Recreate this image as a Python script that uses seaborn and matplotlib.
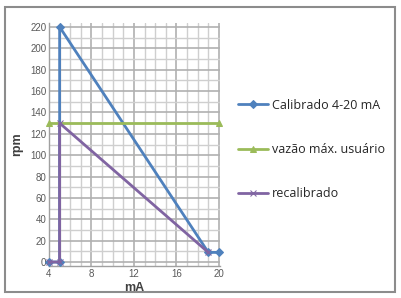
import numpy as np
import pandas as pd
import matplotlib
matplotlib.use("Agg")
import matplotlib.pyplot as plt
import matplotlib.ticker as ticker
from matplotlib.patches import Rectangle
import seaborn as sns

# data
calib_ma = [4, 5, 5, 19, 20]
calib_rpm = [0, 0, 220, 9, 9]
vazao_ma = [4, 20]
vazao_rpm = [130, 130]
recal_ma = [4, 5, 5, 19]
recal_rpm = [0, 0, 130, 9]

series = [
    ("Calibrado 4-20 mA", calib_ma, calib_rpm, "#4f81bd", "D", 4),
    ("vazão máx. usuário", vazao_ma, vazao_rpm, "#9bbb59", "^", 5),
    ("recalibrado", recal_ma, recal_rpm, "#8064a2", "x", 5),
]

sns.set_style("white")
plt.rcParams['font.family'] = ['Liberation Sans', 'DejaVu Sans']

fig = plt.figure(figsize=(4.01, 2.98), dpi=100)
ax = fig.add_axes([49 / 401, 31.7 / 298, (220 - 49) / 401, (266.3 - 22.7) / 298])

for name, x, y, color, marker, ms in series:
    df = pd.DataFrame({"mA": x, "rpm": y})
    sns.lineplot(data=df, x="mA", y="rpm", ax=ax, color=color, marker=marker,
                 markersize=ms, markeredgecolor=color, linewidth=2,
                 sort=False, label=name, estimator=None, clip_on=False, zorder=3)

ax.set_xlim(4, 20.1)
ax.set_ylim(-4, 224)
ax.xaxis.set_major_locator(ticker.MultipleLocator(4))
ax.xaxis.set_minor_locator(ticker.MultipleLocator(1))
ax.yaxis.set_major_locator(ticker.MultipleLocator(20))
ax.yaxis.set_minor_locator(ticker.MultipleLocator(10))
ax.grid(which="major", color="#b0b0b0", linewidth=1.2)
ax.grid(which="minor", color="#cfcfcf", linewidth=1.0)
ax.tick_params(which="both", length=0, labelsize=7, colors="#595959", pad=2)

for side in ["top", "right"]:
    ax.spines[side].set_visible(False)
for side in ["left", "bottom"]:
    ax.spines[side].set_color("#a0a0a0")
    ax.spines[side].set_linewidth(1.0)

ax.set_xlabel("mA", fontsize=9, fontweight="bold", color="#404040", labelpad=2)
ax.set_ylabel("rpm", fontsize=9, fontweight="bold", color="#404040", labelpad=5)

leg = ax.legend(loc="upper left", bbox_to_anchor=(0.581, 0.685),
                bbox_transform=fig.transFigure, borderaxespad=0, frameon=False,
                labelspacing=2.5, handlelength=2.4, handletextpad=0.3,
                prop={"family": "Open Sans", "size": 9})

fig.patches.append(Rectangle((5 / 401, 6 / 298), 390 / 401, 285 / 298,
                             transform=fig.transFigure, fill=False,
                             edgecolor="#8c8c8c", linewidth=1.5))

fig.savefig("out.png", dpi=100)
